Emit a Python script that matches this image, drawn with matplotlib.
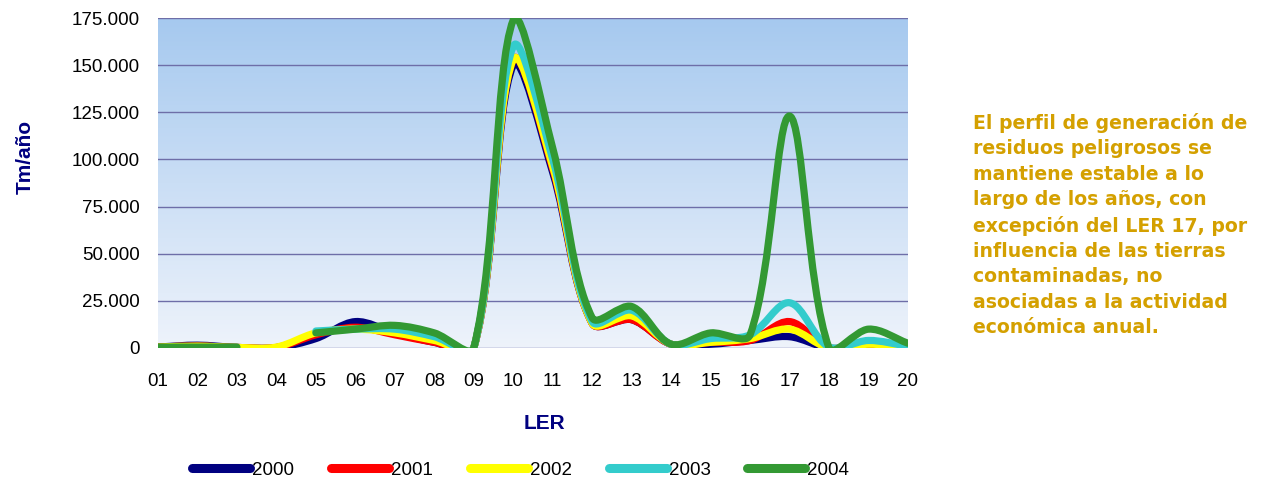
import numpy as np
import matplotlib as mpl
mpl.use('agg')
import matplotlib.pyplot as plt
from matplotlib.path import Path
from matplotlib.patches import PathPatch
from matplotlib.lines import Line2D
from matplotlib.ticker import FuncFormatter

plt.rcParams['font.family'] = ['Liberation Sans', 'DejaVu Sans']

ler = ['01', '02', '03', '04', '05', '06', '07', '08', '09', '10',
       '11', '12', '13', '14', '15', '16', '17', '18', '19', '20']
years = ['2000', '2001', '2002', '2003', '2004']
nan = np.nan
# Tm/año, miles
v2000 = [0.5, 1.5, 0.3, 0.2, 5, 14, 8, 3, 0, 150, 93, 13, 15, 2, 2, 4, 6, 0, 1, 0]
v2001 = [0.5, 1, 0.3, 0.3, 7, 11, 7, 3, 0, 153, 95, 13, 15, 2, 3, 4, 14, 0, 2, 0.5]
v2002 = [0.5, 1, 0.3, 0.5, 8, 10, 8, 4, 0, 153, 96, 13, 17, 2, 3, 5, 10, 0, 2, 0.5]
v2003 = [nan, nan, nan, nan, 9, 10, 10, 6, 0, 160, 100, 14, 20, 2, 5, 7, 24, 0.5, 4, 1]
v2004 = [0.5, 0.5, 0.5, nan, 8, 10, 12, 8, 0, 174, 106, 16, 22, 2, 8, 7, 123, 0, 10, 2.5]
series = [v2000, v2001, v2002, v2003, v2004]
colors = ['#000080', '#FF0000', '#FFFF00', '#33CCCC', '#339933']

XPX = 750 / 19.0        # pixels per category
YPX = 330 / 175000.0    # pixels per Tm


def smooth_path(x, y):
    # smoothed line like the spreadsheet: bezier with chord-scaled tangents
    verts, codes = [], []
    ok = ~np.isnan(y)
    i, n = 0, len(x)
    while i < n:
        if not ok[i]:
            i += 1
            continue
        j = i
        while j + 1 < n and ok[j + 1]:
            j += 1
        P = np.column_stack([x[i:j + 1] * XPX, y[i:j + 1] * YPX])
        m = len(P)
        outs, ins = [], []
        for k in range(m):
            a, d = max(k - 1, 0), min(k + 1, m - 1)
            T = P[d] - P[a]
            l1 = np.hypot(*(P[k] - P[a]))
            l2 = np.hypot(*(P[d] - P[k]))
            s = l1 + l2 if l1 + l2 > 0 else 1
            outs.append(P[k] + T * l2 / s / 3)
            ins.append(P[k] - T * l1 / s / 3)
        verts.append(P[0])
        codes.append(Path.MOVETO)
        for k in range(m - 1):
            verts += [outs[k], ins[k + 1], P[k + 1]]
            codes += [Path.CURVE4] * 3
        i = j + 1
    v = np.array(verts)
    v[:, 0] /= XPX
    v[:, 1] /= YPX
    return Path(v, codes)


fig = plt.figure(figsize=(12.61, 4.83), dpi=100)
ax = fig.add_axes([158 / 1261, 1 - 348 / 483, 750 / 1261, 330 / 483])

# gradient background
grad = np.linspace(0, 1, 256).reshape(-1, 1)
cmap = mpl.colors.LinearSegmentedColormap.from_list('bg', ['#EEF3FB', '#A6C9EF'])
ax.imshow(grad, extent=[0, 1, 0, 1], transform=ax.transAxes, origin='lower',
          cmap=cmap, aspect='auto', zorder=0)

x = np.arange(1, len(ler) + 1, dtype=float)
for vals, c in zip(series, colors):
    y = np.array(vals, dtype=float) * 1000
    p = PathPatch(smooth_path(x, y), facecolor='none', edgecolor=c, lw=5.2,
                  capstyle='round', joinstyle='round', zorder=3)
    ax.add_patch(p)

ax.set_xlim(1, 20)
ax.set_ylim(0, 175000)
ax.set_yticks(np.arange(0, 175001, 25000))
ax.yaxis.set_major_formatter(FuncFormatter(lambda v, p: '{:,.0f}'.format(v).replace(',', '.')))
ax.set_xticks(x)
ax.set_xticklabels(ler)
ax.grid(axis='y', color='#6E6EA8', lw=1.0, zorder=1)
ax.set_axisbelow(True)
for s in ax.spines.values():
    s.set_visible(False)
ax.tick_params(length=0, labelsize=13.5, colors='black')
ax.tick_params(axis='y', pad=13)
ax.tick_params(axis='x', pad=18)

ax.set_ylabel('Tm/año', fontsize=15, fontweight='bold', color='#000080')
ax.yaxis.set_label_coords(-0.164, 0.58)
ax.set_xlabel('LER', fontsize=15, fontweight='bold', color='#000080')
ax.xaxis.set_label_coords(0.515, -0.2)

handles = [Line2D([], [], color=c, lw=6.5, solid_capstyle='round') for c in colors]
fig.legend(handles, years, loc='center', bbox_to_anchor=(0.4128, 0.027), ncol=5,
           frameon=False, fontsize=13.5, handlelength=3.1, handletextpad=0.1,
           columnspacing=1.97)

fig.text(973 / 1261, 1 - 113 / 483,
         'El perfil de generación de\nresiduos peligrosos se\nmantiene estable a lo\n'
         'largo de los años, con\nexcepción del LER 17, por\ninfluencia de las tierras\n'
         'contaminadas, no\nasociadas a la actividad\neconómica anual.',
         family='DejaVu Sans', fontweight='bold', fontsize=13.6, color='#D4A000',
         va='top', ha='left', linespacing=1.42)

fig.savefig('out.png', dpi=100)
